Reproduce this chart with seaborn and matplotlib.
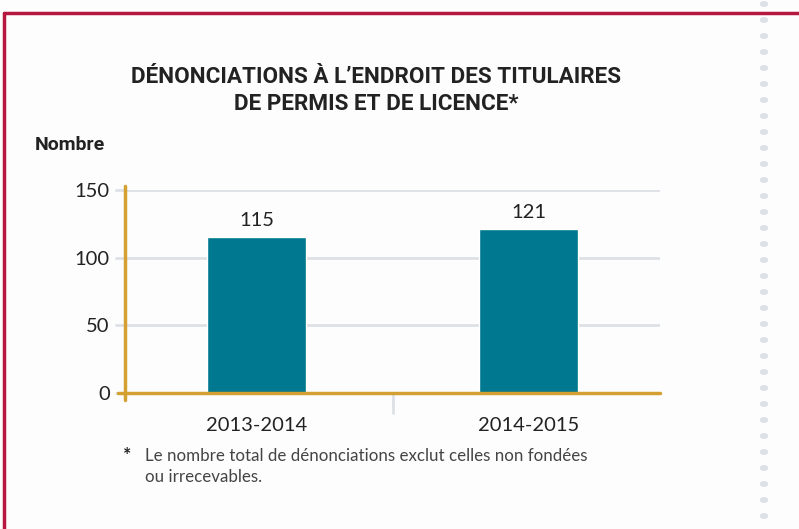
import matplotlib
matplotlib.use("Agg")
import matplotlib.pyplot as plt
import seaborn as sns
import pandas as pd
from matplotlib.lines import Line2D
from matplotlib.patches import Circle

categories = ["2013-2014", "2014-2015"]
values = [115, 121]
yticks = [0, 50, 100, 150]
title = "DÉNONCIATIONS À L’ENDROIT DES TITULAIRES\nDE PERMIS ET DE LICENCE*"
ylabel = "Nombre"
footnote = "Le nombre total de dénonciations exclut celles non fondées\nou irrecevables."

sns.set_theme(style="white")
plt.rcParams['font.family'] = ['Lato', 'DejaVu Sans']

W, H = 799, 529
fig = plt.figure(figsize=(W / 100, H / 100), dpi=100)
fig.patch.set_facecolor("#fdfdfd")

L, R, T, B = 125, 660, 190, 393
ax = fig.add_axes([L / W, 1 - B / H, (R - L) / W, (B - T) / H])
ax.set_facecolor("none")

df = pd.DataFrame({"cat": categories, "val": values})
bar_w = 99 / 272
sns.barplot(data=df, x="cat", y="val", color="#00788f", width=bar_w,
            saturation=1, ax=ax, zorder=3)

ax.set_xlim(-0.4835, 1.4835)
ax.set_ylim(0, 150)
ax.set_yticks(yticks)
ax.set_xlabel("")
ax.set_ylabel("")
for s in ax.spines.values():
    s.set_visible(False)

grid_c = "#dde1e6"
ax.yaxis.grid(True, color=grid_c, linewidth=2, zorder=0)
ax.tick_params(axis="y", length=7, width=2, color=grid_c, pad=4,
               labelsize=14.5, labelcolor="#222222", left=True)
ax.tick_params(axis="x", length=0, pad=17, labelsize=14.5, labelcolor="#222222")
ax.set_xticks([0.5], minor=True)
ax.tick_params(axis="x", which="minor", length=15, width=2, color=grid_c,
               bottom=True, direction="out")

gold = "#d4a032"
ax.add_line(Line2D([-7 / (R - L), 1], [0, 0], transform=ax.transAxes,
                   color=gold, linewidth=2.5, clip_on=False, zorder=5))
ax.add_line(Line2D([0, 0], [-7 / (B - T), 1 + 4 / (B - T)], transform=ax.transAxes,
                   color=gold, linewidth=2.5, clip_on=False, zorder=5))

for i, v in enumerate(values):
    ax.annotate(str(v), (i, v), xytext=(0, 6), textcoords="offset points",
                ha="center", va="bottom", fontsize=14.5, color="#222222")

fig.text(376 / W, 1 - 66 / H, title, ha="center", va="top", fontsize=16.2,
         fontweight="bold", color="#222222", family=["Roboto", "DejaVu Sans"],
         linespacing=1.3)
fig.text(35 / W, 1 - 145 / H, ylabel, ha="left", va="center", fontsize=14,
         fontweight="bold", color="#222222", family=["Roboto", "DejaVu Sans"])
fig.text(123 / W, 1 - 455 / H, "*", ha="left", va="center", fontsize=14,
         fontweight="bold", color="#222222")
fig.text(145 / W, 1 - 448 / H, footnote, ha="left", va="top", fontsize=12.2,
         color="#444444", linespacing=1.35)

# decorative frame
red = "#b5173f"
fig.add_artist(Line2D([4 / W, 1], [1 - 13 / H, 1 - 13 / H], transform=fig.transFigure,
                      color=red, linewidth=2.5))
fig.add_artist(Line2D([4 / W, 4 / W], [1 - 13 / H, 0], transform=fig.transFigure,
                      color=red, linewidth=2.5))
for k in range(33):
    y = 4 + 16 * k
    fig.add_artist(Circle((764 / W, 1 - y / H), 3.5 / W, transform=fig.transFigure,
                          color="#dde1e6", zorder=0))

fig.savefig("out.png", dpi=100, facecolor=fig.get_facecolor())
